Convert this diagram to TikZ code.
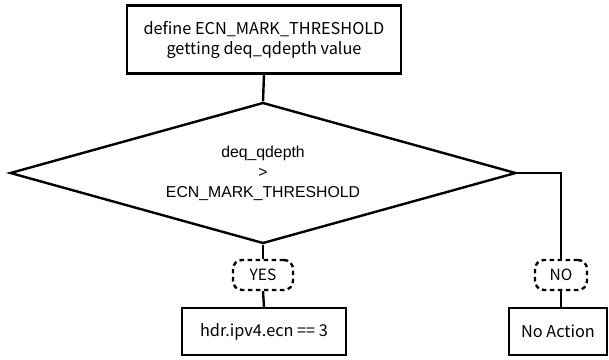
\documentclass[tikz,border=0pt]{standalone}
\usepackage{fontspec}
\setmainfont{Noto Sans CJK JP}
\newfontfamily\condfont{Liberation Sans}
\usetikzlibrary{shapes.geometric}
\tikzset{
  flow/.style={line width=2.4pt},
  procbox/.style={draw, line width=2.4pt, inner sep=0pt, align=center, font=\fontsize{16.3}{20}\selectfont},
  decide/.style={draw, diamond, aspect=3.6, line width=2.4pt, inner sep=0pt, align=center, font=\condfont\fontsize{15.8}{20}\selectfont},
  tag/.style={draw, dash pattern=on 4.5pt off 3.5pt, rounded corners=9pt, line width=2.4pt, inner sep=0pt, font=\fontsize{15.5}{17}\selectfont}
}
\begin{document}
\begin{tikzpicture}[x=1pt,y=-1pt]
  \useasboundingbox (0,0) rectangle (609,359);
  \node[procbox, minimum width=274pt, minimum height=68pt] (def) at (264,39.5) {define ECN\_MARK\_THRESHOLD\\getting deq\_qdepth value};
  \node[decide, minimum width=506pt, minimum height=141pt] (cmp) at (263,173) {deq\_qdepth\\>\\ECN\_MARK\_THRESHOLD};
  \node[tag, minimum width=60pt, minimum height=30pt] (yes) at (263,275) {YES};
  \node[tag, minimum width=52pt, minimum height=30pt] (no) at (561,275) {NO};
  \node[procbox, minimum width=164pt, minimum height=47pt] (mark) at (264,331.5) {hdr.ipv4.ecn == 3};
  \node[procbox, minimum width=98pt, minimum height=47pt] (idle) at (558,331.5) {No Action};
  \draw[flow] (def.south) -- (cmp.north);
  \draw[flow] (cmp.south) -- (yes.north);
  \draw[flow] (yes.south) -- (mark.north);
  \draw[flow] (cmp.east) -| (no.north);
  \draw[flow] (no.south) -- (idle.north -| no.south);
\end{tikzpicture}
\end{document}
